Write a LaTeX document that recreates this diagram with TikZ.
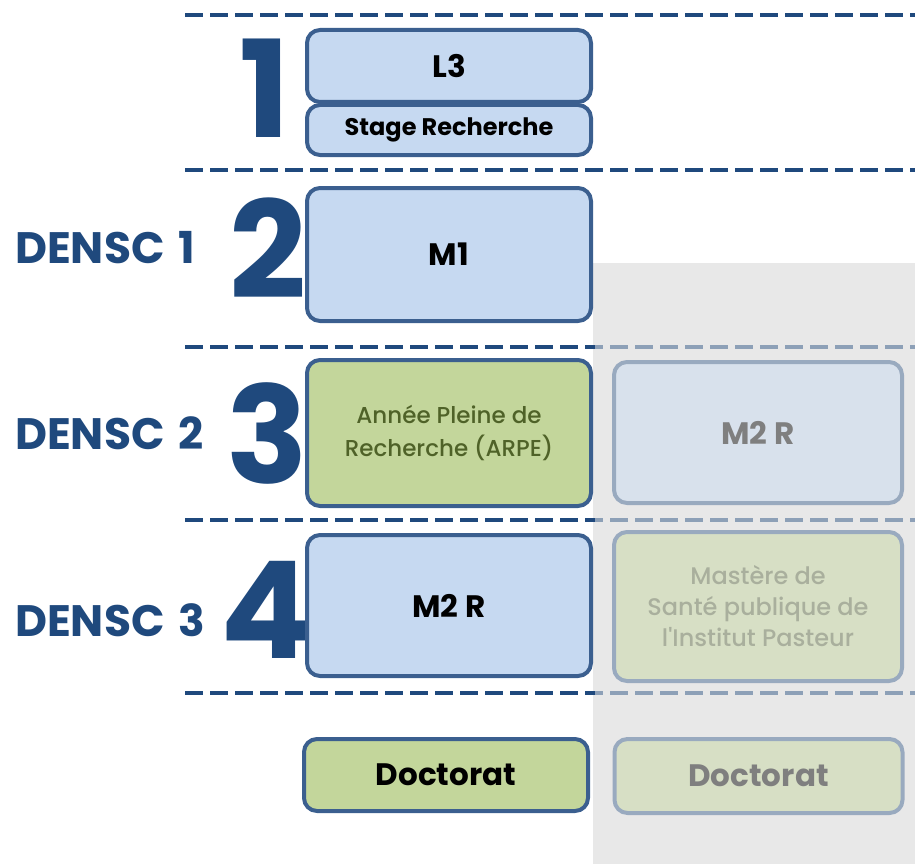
\documentclass[tikz,border=0pt]{standalone}
\usepackage{fontspec}
\setmainfont{Poppins}
\newfontfamily\medfont{Poppins}[UprightFont={* Medium}]
\definecolor{densc}{HTML}{1F497D}
\definecolor{boxline}{HTML}{3B5F8F}
\definecolor{boxblue}{HTML}{C6D9F1}
\definecolor{boxgreen}{HTML}{C3D69B}
\definecolor{arpetext}{HTML}{4F6228}
\definecolor{greyzone}{HTML}{E8E8E8}
\begin{document}
\begin{tikzpicture}[x=1pt, y=-1pt, line join=round, line cap=round,
	bluebox/.style={draw=boxline, line width=4pt, rounded corners=13pt, fill=boxblue, align=center, inner sep=0pt, font=\fontsize{31}{35}\selectfont\bfseries},
	greenbox/.style={bluebox, fill=boxgreen},
	bignum/.style={text=densc, inner sep=0pt, font=\fontsize{135}{135}\selectfont\bfseries},
	densclab/.style={text=densc, inner sep=0pt, anchor=west, font=\fontsize{44}{44}\selectfont\bfseries}]
	\def\wl{284}\def\wr{288}
	\useasboundingbox (0,0) rectangle (915,864);
	\fill[greyzone] (593,263) rectangle (915,864);
	\foreach \y in {15,170,347,520,693}\draw[densc, line width=4pt, line cap=butt, dash pattern=on 18pt off 7pt] (185,\y)--(915,\y);
	% years
	\node[bignum] (n1) at (265,88) {1};
	\node[bignum] (n2) at (268,248) {2};
	\node[bignum] (n3) at (267,433) {3};
	\node[bignum] (n4) at (266,610) {4};
	\node[densclab] (d1) at (15,248) {DENSC\hspace{.32em}1};
	\node[densclab] (d2) at (15,433) {DENSC\hspace{.32em}2};
	\node[densclab] (d3) at (15,620) {DENSC\hspace{.32em}3};
	% main track
	\node[bluebox, minimum width=\wl, minimum height=72] (l3) at (449,66) {L3};
	\node[bluebox, minimum width=\wl, minimum height=50, font=\fontsize{24}{28}\selectfont\bfseries] (stage) at (449,130) {Stage Recherche};
	\node[greenbox, minimum width=\wl, minimum height=146, text=arpetext, font=\fontsize{23}{33}\selectfont\medfont] (arpe) at (449,433) {Année Pleine de\\Recherche (ARPE)};
	\node[bluebox, minimum width=\wl, minimum height=133] (m1) at (449,254.5) {M1};
	\node[bluebox, minimum width=\wl, minimum height=141] (m2r) at (449,605.5) {M2 R};
	\node[greenbox, minimum width=\wl, minimum height=72] (doc) at (446,775) {Doctorat};
	% other track
	\node[bluebox, minimum width=\wr, minimum height=141] (m2rb) at (758,432.5) {M2 R};
	\node[greenbox, minimum width=\wr, minimum height=149, text=arpetext!70!gray, font=\fontsize{24}{31}\selectfont\medfont] (mph) at (758,606.5) {Mastère de\\Santé publique de\\l'Institut Pasteur};
	\node[greenbox, minimum width=\wr, minimum height=74] (docb) at (758.5,776) {Doctorat};
	\fill[greyzone, opacity=.55] (595,263) rectangle (915,864);
\end{tikzpicture}
\end{document}
